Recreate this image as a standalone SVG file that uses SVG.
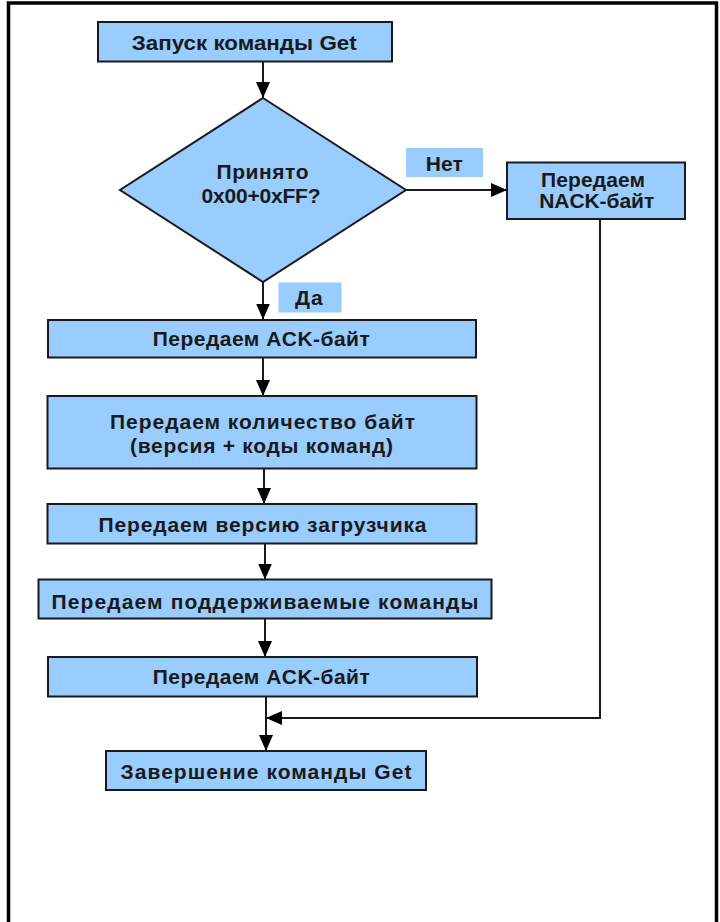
<svg xmlns="http://www.w3.org/2000/svg" width="720" height="922" viewBox="0 0 720 922">
  <style>
    .box { fill: #99ccff; stroke: #1a1a1a; stroke-width: 2; }
    .tag { fill: #99ccff; stroke: none; }
    .lbl { font-family: "Liberation Sans", Arial, sans-serif; font-weight: bold; font-size: 21px; fill: #1a1a1a; text-anchor: middle; }
    .wire { fill: none; stroke: #1a1a1a; stroke-width: 2; }
    .frame { fill: none; stroke: #000; stroke-width: 3.5; }
  </style>
  <defs>
    <marker id="arrow" viewBox="0 0 16 14" refX="16" refY="7" markerWidth="16" markerHeight="14" markerUnits="userSpaceOnUse" orient="auto">
      <path d="M0,0 L16,7 L0,14 Z" fill="#000"/>
    </marker>
  </defs>

  <rect width="720" height="922" fill="#fff"/>

  <!-- outer frame, open at the bottom -->
  <path class="frame" d="M8.5,922 V3 H716.5 V922"/>

  <!-- connectors -->
  <g id="connectors">
    <path class="wire" d="M263,61.5 V98" marker-end="url(#arrow)"/>
    <path class="wire" d="M406,190 H507" marker-end="url(#arrow)"/>
    <path class="wire" d="M263,282 V319.5" marker-end="url(#arrow)"/>
    <path class="wire" d="M263,357.5 V396" marker-end="url(#arrow)"/>
    <path class="wire" d="M264,468.5 V504" marker-end="url(#arrow)"/>
    <path class="wire" d="M265,543.5 V579.5" marker-end="url(#arrow)"/>
    <path class="wire" d="M265,618.5 V657" marker-end="url(#arrow)"/>
    <path class="wire" d="M266,696.5 V751" marker-end="url(#arrow)"/>
    <path class="wire" d="M600,219 V718 H266" marker-end="url(#arrow)"/>
  </g>

  <g id="start">
    <rect class="box" x="98" y="22" width="294" height="39.5"/>
    <text class="lbl" x="244.2" y="50" font-size="22" textLength="225" lengthAdjust="spacingAndGlyphs">Запуск команды Get</text>
  </g>

  <g id="check">
    <polygon class="box" points="263,98 406,190 263,282 120,190"/>
    <text class="lbl" x="262.5" y="179" textLength="92" lengthAdjust="spacing">Принято</text>
    <text class="lbl" x="261" y="203" textLength="119" lengthAdjust="spacing">0x00+0xFF?</text>
  </g>

  <g id="label-no">
    <rect class="tag" x="406" y="148" width="77" height="29"/>
    <text class="lbl" x="444.3" y="170.7" textLength="37" lengthAdjust="spacing">Нет</text>
  </g>

  <g id="nack">
    <rect class="box" x="507" y="162.5" width="178" height="56.5"/>
    <text class="lbl" x="593" y="186.7" textLength="104" lengthAdjust="spacing">Передаем</text>
    <text class="lbl" x="596.7" y="208.3" textLength="115" lengthAdjust="spacing">NACK-байт</text>
  </g>

  <g id="label-yes">
    <rect class="tag" x="278.5" y="282.5" width="63" height="30"/>
    <text class="lbl" x="308.8" y="305" textLength="27.7" lengthAdjust="spacing">Да</text>
  </g>

  <g id="ack-1">
    <rect class="box" x="48" y="320" width="428" height="37.5"/>
    <text class="lbl" x="261.3" y="346.3" textLength="217" lengthAdjust="spacing">Передаем ACK-байт</text>
  </g>

  <g id="count">
    <rect class="box" x="47.5" y="396" width="429" height="72.5"/>
    <text class="lbl" x="262.5" y="429.3" textLength="305" lengthAdjust="spacing">Передаем количество байт</text>
    <text class="lbl" x="261.5" y="452.7" textLength="263" lengthAdjust="spacing">(версия + коды команд)</text>
  </g>

  <g id="version">
    <rect class="box" x="47.5" y="504" width="429" height="39.5"/>
    <text class="lbl" x="262.5" y="532" textLength="328" lengthAdjust="spacing">Передаем версию загрузчика</text>
  </g>

  <g id="commands">
    <rect class="box" x="38.5" y="579.5" width="453" height="39"/>
    <text class="lbl" x="265" y="609.3" textLength="427" lengthAdjust="spacing">Передаем поддерживаемые команды</text>
  </g>

  <g id="ack-2">
    <rect class="box" x="48" y="657" width="429" height="39.5"/>
    <text class="lbl" x="261.3" y="683.6" textLength="217" lengthAdjust="spacing">Передаем ACK-байт</text>
  </g>

  <g id="finish">
    <rect class="box" x="106" y="751" width="320" height="39"/>
    <text class="lbl" x="266" y="779.3" textLength="291" lengthAdjust="spacing">Завершение команды Get</text>
  </g>
</svg>
